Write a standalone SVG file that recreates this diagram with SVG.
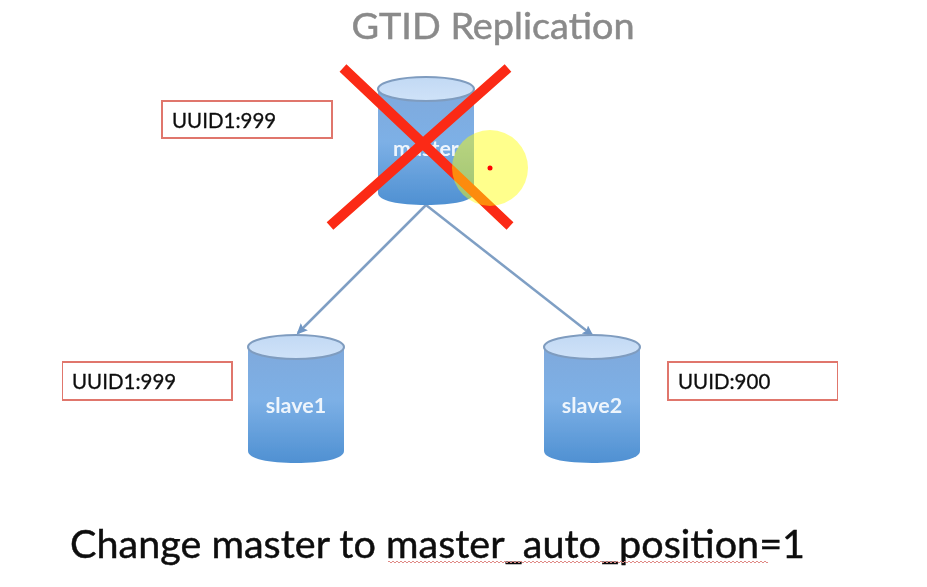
<svg xmlns="http://www.w3.org/2000/svg" width="927" height="587" viewBox="0 0 927 587">
<style>
.lbl{fill:#fff;stroke:#e0766c;stroke-width:2}
.ut{font-family:Lato,"Liberation Sans",sans-serif;font-size:20.5px;fill:#111;stroke:#111;stroke-width:.3}
.nt{font-family:Lato,"Liberation Sans",sans-serif;font-size:21.5px;font-weight:700;fill:#eef5fc;text-anchor:middle}
.body{fill:url(#cyl)}
.top{fill:url(#cap);stroke:#7f9cbf;stroke-width:2}
.conn{stroke:#7f9fc4;stroke-width:2.5;fill:none;marker-end:url(#arrow)}
.x{stroke:#fb2c12;stroke-width:10;fill:none}
</style>
<defs>
<linearGradient id="cyl" x1="0" y1="0" x2="0" y2="1"><stop offset="0" stop-color="#7fa9dc"/><stop offset=".45" stop-color="#7db0e6"/><stop offset="1" stop-color="#4f90d2"/></linearGradient>
<linearGradient id="cap" x1="0" y1="0" x2="0" y2="1"><stop offset="0" stop-color="#c2d9f4"/><stop offset="1" stop-color="#cfe2f8"/></linearGradient>
<marker id="arrow" markerWidth="11" markerHeight="10" refX="9" refY="5" orient="auto" markerUnits="userSpaceOnUse" viewBox="0 0 11 10"><path d="M0 0L11 5L0 10L2 5Z" fill="#6f96c4"/></marker>
<symbol id="c" overflow="visible"><path class="body" d="M0 12V116C0 124 21 128 48 128S96 124 96 116V12Z"/><ellipse class="top" cx="48" cy="12" rx="48" ry="12"/></symbol>
<pattern id="sq" width="4" height="4" patternUnits="userSpaceOnUse" x="388" y="560"><path d="M0 2q1 -2 2 0t2 0" fill="none" stroke="#e08a86" stroke-width="1"/></pattern>
<filter id="soft" x="0" y="0" width="1" height="1"><feGaussianBlur stdDeviation=".55"/></filter>
</defs>
<rect width="927" height="587" fill="#fff"/>
<g filter="url(#soft)">
<text x="493" y="39" font-family="Lato,'Liberation Sans',sans-serif" font-size="36" fill="#8a8a8a" stroke="#8a8a8a" stroke-width=".5" text-anchor="middle" textLength="283" lengthAdjust="spacingAndGlyphs">GTID Replication</text>
<g id="connectors">
<path class="conn" d="M426 205L298 333"/>
<path class="conn" d="M426 205L592 335"/>
</g>
<g id="master"><use href="#c" x="378" y="77"/><text class="nt" x="426" y="156">master</text></g>
<g id="slave1"><use href="#c" x="248" y="335"/><text class="nt" x="296" y="413">slave1</text></g>
<g id="slave2"><use href="#c" x="544" y="335"/><text class="nt" x="592" y="413">slave2</text></g>
<g id="uuid-master"><rect class="lbl" x="162" y="101" width="170" height="37"/><text class="ut" x="172" y="128">UUID1:999</text></g>
<g id="uuid-slave1"><rect class="lbl" x="62" y="362" width="170" height="38"/><text class="ut" x="72" y="389">UUID1:999</text></g>
<g id="uuid-slave2"><rect class="lbl" x="668" y="362" width="170" height="38"/><text class="ut" x="678" y="389">UUID:900</text></g>
<g id="cross"><path class="x" d="M343 68L510 226M508 68L330 226"/></g>
<g id="pointer"><circle cx="490" cy="168" r="38" fill="#ff0" fill-opacity=".45"/><circle cx="490" cy="168" r="2.5" fill="#f00"/></g>
<text x="70" y="558" font-family="Lato,'Liberation Sans',sans-serif" font-size="38" fill="#0a0a0a" stroke="#0a0a0a" stroke-width=".4" textLength="735" lengthAdjust="spacingAndGlyphs">Change master to master_auto_position=1</text>
<rect x="388" y="560" width="380" height="4" fill="url(#sq)"/>
</g>
</svg>
